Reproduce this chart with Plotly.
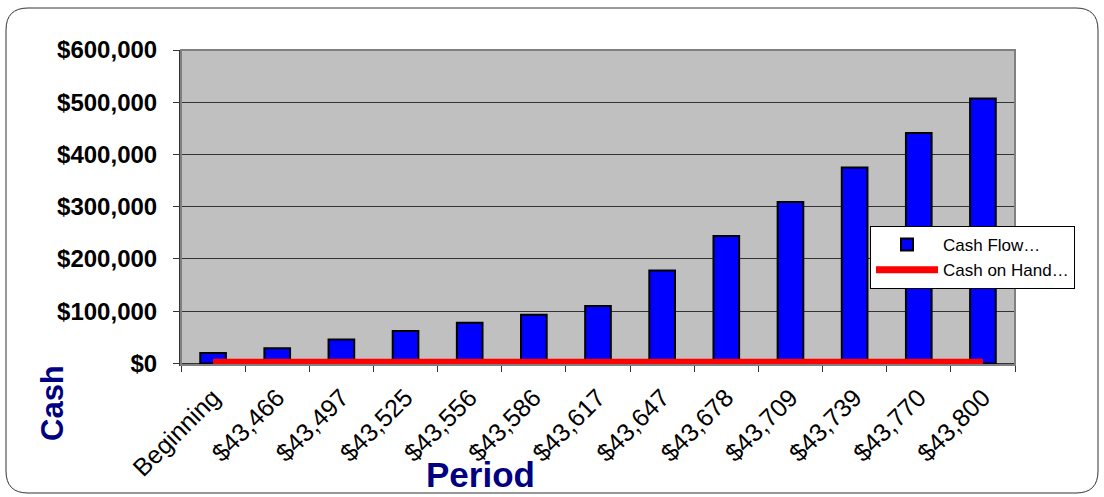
import plotly.graph_objects as go

periods = ["Beginning", "$43,466", "$43,497", "$43,525", "$43,556", "$43,586",
           "$43,617", "$43,647", "$43,678", "$43,709", "$43,739", "$43,770", "$43,800"]
cash_flow = [20000, 29000, 46000, 62000, 78000, 93000, 110000, 178000, 244000,
             309000, 375000, 441000, 507000]
cash_on_hand = [2500] * 13
y_ticks = [0, 100000, 200000, 300000, 400000, 500000, 600000]

W, H = 1104, 497
L, R, T, B = 181, 1015, 50, 365
YMIN = -3000


def px(x):
    return (x - L) / (R - L)


def py(y):
    return (B - y) / (B - T)


fig = go.Figure()
fig.add_trace(go.Bar(
    x=periods, y=cash_flow, name="Cash Flow…",
    marker=dict(color="#0000FF", line=dict(color="black", width=2)),
))
fig.add_trace(go.Scatter(
    x=periods, y=cash_on_hand, name="Cash on Hand…", mode="lines",
    line=dict(color="#FF0000", width=7),
))

# rounded outer frame
x0, x1, y0, y1, r = 6, 1098, 8, 493, 22
path = (f"M {px(x0 + r)},{py(y0)} L {px(x1 - r)},{py(y0)} "
        f"Q {px(x1)},{py(y0)} {px(x1)},{py(y0 + r)} "
        f"L {px(x1)},{py(y1 - r)} Q {px(x1)},{py(y1)} {px(x1 - r)},{py(y1)} "
        f"L {px(x0 + r)},{py(y1)} Q {px(x0)},{py(y1)} {px(x0)},{py(y1 - r)} "
        f"L {px(x0)},{py(y0 + r)} Q {px(x0)},{py(y0)} {px(x0 + r)},{py(y0)} Z")

fig.update_layout(
    width=W, height=H,
    margin=dict(l=L, r=W - R, t=T, b=H - B, autoexpand=False),
    paper_bgcolor="white", plot_bgcolor="#C0C0C0",
    font=dict(family="Arial, Liberation Sans", color="black"),
    bargap=0.6,
    showlegend=True,
    legend=dict(x=px(870), y=py(226), xanchor="left", yanchor="top",
                bgcolor="white", bordercolor="black", borderwidth=1,
                font=dict(size=17, color="black"), tracegroupgap=0,
                itemwidth=62),
    xaxis=dict(type="category", tickangle=-45, tickson="boundaries",
               ticks="outside", ticklen=6, tickcolor="#333",
               ticklabelstandoff=7,
               showline=True, linecolor="#333", linewidth=1,
               showgrid=False, tickfont=dict(size=25, color="black")),
    yaxis=dict(range=[YMIN, 600000], tickvals=y_ticks,
               tickformat="$,.0f", ticks="outside", ticklen=6,
               tickcolor="#333", ticklabelstandoff=11,
               showline=True, linecolor="#333", linewidth=2,
               showgrid=True, gridcolor="#333", gridwidth=1,
               zeroline=False,
               tickfont=dict(size=24, color="black", weight="bold")),
    shapes=[
        dict(type="rect", xref="paper", yref="paper", x0=0, x1=1, y0=0, y1=1,
             line=dict(color="#808080", width=2), layer="above"),
        dict(type="path", xref="paper", yref="paper", path=path,
             line=dict(color="#333", width=1), layer="below"),
    ],
    annotations=[
        dict(text="Cash", xref="paper", yref="paper", x=px(52), y=py(403),
             xanchor="center", yanchor="middle",
             showarrow=False, textangle=-90,
             font=dict(size=31, color="#000080", weight="bold")),
        dict(text="Period", xref="paper", yref="paper", x=px(480), y=py(474),
             xanchor="center", yanchor="middle",
             showarrow=False,
             font=dict(size=35, color="#000080", weight=900)),
    ],
)

fig.write_html("out.html", config={"displayModeBar": False},
               post_script="document.body.style.margin='0px';")
